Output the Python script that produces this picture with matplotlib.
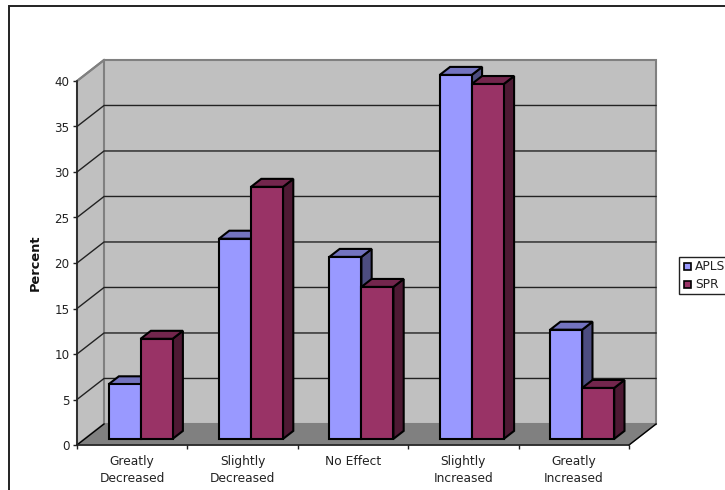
import matplotlib
matplotlib.use("Agg")
from matplotlib import pyplot as plt
from matplotlib.patches import Polygon, Rectangle

categories = ["Greatly\nDecreased", "Slightly\nDecreased", "No Effect",
              "Slightly\nIncreased", "Greatly\nIncreased"]
apls = [6, 22, 20, 40, 12]
spr = [11, 27.7, 16.7, 39, 5.6]
y_ticks = [0, 5, 10, 15, 20, 25, 30, 35, 40]

WIDTH, HEIGHT = 725, 490

# depth of the floor in axis units, used to fake the 3D look
DEPTH_X = 0.245
DEPTH_Y = 2.31
BAR_WIDTH = 0.29
BAR_START = 0.215
BAR_NEAR = 0.29
BAR_FAR = 0.67


def project(x, y, d):
    """moves a point of the front plane back by d (0 to 1) into the box"""
    return x + d * DEPTH_X, y + d * DEPTH_Y


def face(ax, points, color, edge="black", lw=1.5, z=3):
    ax.add_patch(Polygon(points, closed=True, facecolor=color, edgecolor=edge,
                         linewidth=lw, joinstyle="miter", clip_on=False, zorder=z))


def draw_bar(ax, x0, value, front, top, side, z):
    x1 = x0 + BAR_WIDTH
    face(ax, [project(x1, 0, BAR_NEAR), project(x1, 0, BAR_FAR),
              project(x1, value, BAR_FAR), project(x1, value, BAR_NEAR)], side, z=z)
    face(ax, [project(x0, value, BAR_NEAR), project(x1, value, BAR_NEAR),
              project(x1, value, BAR_FAR), project(x0, value, BAR_FAR)], top, z=z)
    face(ax, [project(x0, 0, BAR_NEAR), project(x1, 0, BAR_NEAR),
              project(x1, value, BAR_NEAR), project(x0, value, BAR_NEAR)], front, z=z)


def draw_box(ax, n):
    wall = "#c0c0c0"
    wall_edge = "#808080"
    top = y_ticks[-1]
    # floor first, then side wall and back wall over it
    face(ax, [project(0, 0, 0), project(n, 0, 0), project(n, 0, 1), project(0, 0, 1)],
         "#808080", edge="#808080", lw=1, z=1)
    face(ax, [project(0, 0, 0), project(0, 0, 1), project(0, top, 1), project(0, top, 0)],
         wall, edge=wall_edge, lw=1.5, z=1)
    face(ax, [project(0, 0, 1), project(n, 0, 1), project(n, top, 1), project(0, top, 1)],
         wall, edge=wall_edge, lw=1.5, z=1)
    # gridlines run along the back wall and down the side wall
    for tick in y_ticks[1:-1]:
        xs, ys = zip(project(0, tick, 0), project(0, tick, 1), project(n, tick, 1))
        ax.plot(xs, ys, color="#222222", lw=1, zorder=2, clip_on=False)
    xs, ys = zip(project(0, top, 0), project(0, top, 1))
    ax.plot(xs, ys, color="#808080", lw=1.5, zorder=2, clip_on=False)
    # dark edges where the floor meets the front plane
    for x in [0, n]:
        xs, ys = zip(project(x, 0, 0), project(x, 0, 1))
        ax.plot(xs, ys, color="black", lw=1, zorder=2, clip_on=False)


def main():
    fig = plt.figure(figsize=(WIDTH / 100, HEIGHT / 100), dpi=100)

    # outer chart border, the right and bottom sides fall outside the image
    fig.add_artist(Rectangle((9 / WIDTH, -0.1), 1.0, 1.0875,
                             transform=fig.transFigure, fill=False,
                             edgecolor="#222222", linewidth=1.4))

    ax = fig.add_axes([77 / WIDTH, 1 - 445 / HEIGHT, 552 / WIDTH, 364 / HEIGHT])
    n = len(categories)
    ax.set_xlim(0, n)
    ax.set_ylim(0, y_ticks[-1])
    ax.patch.set_visible(False)
    for name in ["top", "right"]:
        ax.spines[name].set_visible(False)
    for name in ["left", "bottom"]:
        ax.spines[name].set_color("#222222")
        ax.spines[name].set_linewidth(1.2)
        ax.spines[name].set_zorder(4)

    draw_box(ax, n)

    for i in range(n):
        x0 = i + BAR_START
        draw_bar(ax, x0, apls[i], "#9999ff", "#7373bf", "#4d4d80", 3 + i * 0.1)
        draw_bar(ax, x0 + BAR_WIDTH, spr[i], "#993366", "#73264d", "#4d1933", 3.05 + i * 0.1)

    ax.set_yticks(y_ticks)
    ax.set_xticks(range(n + 1))
    ax.set_xticklabels([])
    ax.set_xticks([i + 0.5 for i in range(n)], labels=categories, minor=True,
                  linespacing=1.45)
    ax.tick_params(axis="y", length=3, width=1, labelsize=8.6, pad=2.5, colors="#222222")
    ax.tick_params(axis="x", which="major", length=3, width=1, colors="#222222")
    ax.tick_params(axis="x", which="minor", length=0, labelsize=8.8, pad=7,
                   labelcolor="#222222")
    ax.set_ylabel("Percent", fontsize=9.4, fontweight="bold", labelpad=9, color="#111111")

    # legend is placed by hand since it runs past the right edge
    fig.add_artist(Rectangle((679 / WIDTH, 1 - 294 / HEIGHT), 60 / WIDTH, 37 / HEIGHT,
                             transform=fig.transFigure, facecolor="white",
                             edgecolor="#222222", linewidth=1))
    for label, color, y in [("APLS", "#9999ff", 266), ("SPR", "#993366", 285)]:
        fig.add_artist(Rectangle((684 / WIDTH, 1 - (y + 3.5) / HEIGHT), 7 / WIDTH, 7 / HEIGHT,
                                 transform=fig.transFigure, facecolor=color,
                                 edgecolor="black", linewidth=1.2))
        fig.text(695 / WIDTH, 1 - y / HEIGHT, label, fontsize=8.8, va="center", color="#222222")

    fig.savefig("out.png", dpi=100)


if __name__ == "__main__":
    main()
